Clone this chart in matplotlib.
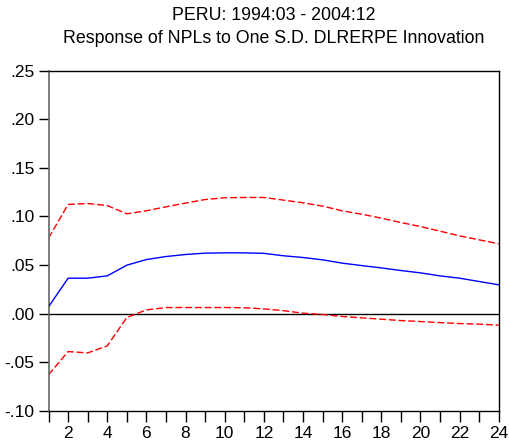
import matplotlib.pyplot as plt
from matplotlib.ticker import FixedLocator, FuncFormatter

plt.rcParams['font.family'] = ['Liberation Sans', 'DejaVu Sans']

# impulse response periods
periods = list(range(1, 25))

# response of NPLs (point estimate)
response = [0.0069, 0.0364, 0.0364, 0.0388, 0.0498, 0.0556, 0.0587, 0.0608,
            0.0622, 0.0625, 0.0625, 0.0620, 0.0595, 0.0577, 0.0553, 0.0519,
            0.0494, 0.0470, 0.0443, 0.0419, 0.0388, 0.0364, 0.0330, 0.0296]

# +/- 2 S.E. bands
upper = [0.0776, 0.1123, 0.1133, 0.1112, 0.1027, 0.1058, 0.1099, 0.1137,
         0.1174, 0.1192, 0.1195, 0.1195, 0.1168, 0.1140, 0.1106, 0.1058,
         0.1023, 0.0982, 0.0937, 0.0896, 0.0848, 0.0800, 0.0759, 0.0718]
lower = [-0.0631, -0.0391, -0.0405, -0.0333, -0.0041, 0.0038, 0.0062, 0.0062,
         0.0062, 0.0062, 0.0060, 0.0048, 0.0030, 0.0004, -0.0010, -0.0030,
         -0.0044, -0.0058, -0.0072, -0.0082, -0.0093, -0.0103, -0.0109, -0.0119]

yticks = [-0.10, -0.05, 0.00, 0.05, 0.10, 0.15, 0.20, 0.25]
xlabels = [2, 4, 6, 8, 10, 12, 14, 16, 18, 20, 22, 24]

fig = plt.figure(figsize=(5.1, 4.43), dpi=100)
ax = fig.add_axes([0.0951, 0.0729, 0.8829, 0.7675])

ax.axhline(0, color='black', linewidth=1.0, zorder=1)
ax.plot(periods, response, color='blue', linewidth=1.0, zorder=3)
ax.plot(periods, upper, color='red', linewidth=1.0, dashes=(5, 2), zorder=2)
ax.plot(periods, lower, color='red', linewidth=1.0, dashes=(5, 2), zorder=2)

ax.set_xlim(1, 24)
ax.set_ylim(-0.10, 0.25)

ax.set_yticks(yticks)
ax.yaxis.set_major_formatter(FuncFormatter(
    lambda v, p: ('-' if v < -1e-9 else '') + ('%.2f' % abs(v))[1:]))
ax.xaxis.set_major_locator(FixedLocator(xlabels))
ax.xaxis.set_minor_locator(FixedLocator([p for p in periods if p % 2 == 1]))

ax.tick_params(axis='y', direction='out', length=7, width=1, pad=3, labelsize=12.5)
ax.tick_params(axis='x', which='both', direction='out', length=8, width=1, pad=3,
               labelsize=12.5)
ax.tick_params(top=False, right=False)

for s in ['top', 'right', 'bottom']:
    ax.spines[s].set_color('black')
    ax.spines[s].set_linewidth(1.0)
ax.spines['left'].set_color('#666666')
ax.spines['left'].set_linewidth(1.2)

fig.text(0.537, 0.965, 'PERU: 1994:03 - 2004:12', ha='center', va='center', fontsize=12.8)
fig.text(0.537, 0.913, 'Response of NPLs to One S.D. DLRERPE Innovation',
         ha='center', va='center', fontsize=12.8)

fig.savefig('out.png', dpi=100)
